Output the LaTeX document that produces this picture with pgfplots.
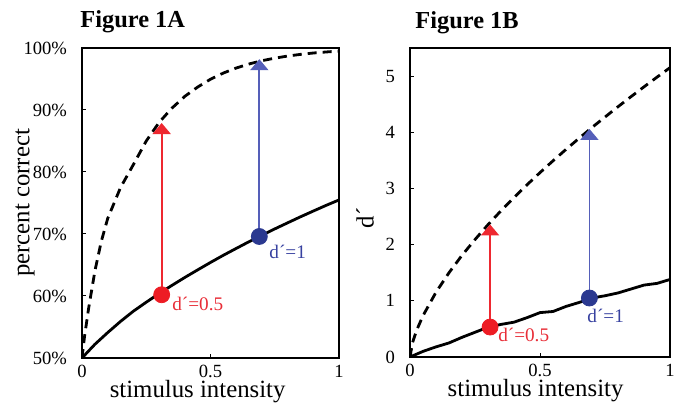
\documentclass[border=0pt]{standalone}
\usepackage{fontspec}
\setmainfont{Liberation Serif}
\usepackage{pgfplots}
\pgfplotsset{compat=1.18}
\usetikzlibrary{arrows.meta}

\definecolor{ptred}{RGB}{237,28,36}
\definecolor{ptblue}{RGB}{43,57,144}
\definecolor{lnred}{RGB}{238,40,48}
\definecolor{lnblue}{RGB}{85,95,185}
\definecolor{txtred}{RGB}{232,45,55}
\definecolor{txtblue}{RGB}{55,65,160}

\newcommand{\dpr}{d\symbol{"00B4}}

\pgfplotsset{
  panel/.style={
    scale only axis,
    axis line style={line width=1.3pt},
    tick align=inside,
    xtick pos=left, ytick pos=left,
    major tick length=2pt,
    tick style={black, line width=0.5pt},
    xmin=0, xmax=1,
    xtick={0,0.5,1}, xticklabels={0,0.5,1},
    tick label style={font=\rmfamily\fontsize{9.3}{10}\selectfont},
    yticklabel style={xshift=-4pt},
    /pgf/number format/assume math mode=true,
    label style={font=\rmfamily\fontsize{12.4}{13}\selectfont},
    title style={font=\rmfamily\fontsize{12.2}{13}\selectfont\bfseries,
      at={(axis description cs:0,1)}, anchor=base west, inner sep=0pt,
      yshift=4pt},
    xlabel={stimulus intensity},
  },
  solidc/.style={black, line width=1.4pt, line join=round},
  dashc/.style={black, line width=1.4pt, dash pattern=on 4.5pt off 3pt},
  arr/.style={line width=0.9pt, -{Triangle[width=9pt,length=5.5pt]}},
}
\tikzset{note/.style={anchor=base west, inner sep=0pt,
  font=\rmfamily\fontsize{9.6}{10}\selectfont}}

\begin{document}
\begin{tikzpicture}
\useasboundingbox (0,0) rectangle (340pt,203pt);

% ---- Figure 1A: percent correct ----
\begin{axis}[panel,
  at={(41pt,24pt)}, anchor=south west,
  width=128.5pt, height=155pt,
  ymin=50, ymax=100,
  ytick={50,60,70,80,90,100},
  yticklabels={50\%,60\%,70\%,80\%,90\%,100\%},
  title={Figure 1A},
  title style={xshift=-1pt},
  ylabel={percent correct},
  xlabel style={at={(axis description cs:0.45,-0.129)}, anchor=base},
  ylabel style={at={(axis description cs:-0.222,0.5)}, anchor=center},
]
\addplot[dashc] coordinates {
 (0,50) (0.01,53.5) (0.025,57.8) (0.05,64) (0.075,68.8) (0.1,72.5)
 (0.15,77.5) (0.2,81.2) (0.25,85) (0.3,88) (0.35,90.3) (0.4,92.2)
 (0.45,93.7) (0.5,94.96) (0.55,95.96) (0.6,96.77) (0.65,97.42)
 (0.7,97.95) (0.75,98.36) (0.8,98.7) (0.85,98.97) (0.9,99.19)
 (0.95,99.36) (1,99.5)
};
\addplot[solidc] coordinates {
 (0,50) (0.05,52.2) (0.1,54.1) (0.15,55.9) (0.2,57.55) (0.25,59.0)
 (0.3,60.39) (0.35,61.71) (0.4,62.99) (0.45,64.21) (0.5,65.41)
 (0.55,66.57) (0.6,67.67) (0.65,68.76) (0.7,69.8) (0.75,70.82)
 (0.8,71.8) (0.85,72.77) (0.9,73.7) (0.95,74.62) (1,75.49)
};
\addplot[lnred, arr] coordinates {(0.31,60.2) (0.31,87.9)};
\addplot[lnblue, arr] coordinates {(0.69,69.6) (0.69,98.2)};
\addplot[only marks, mark=*, mark size=4pt, ptred] coordinates {(0.31,60.2)};
\addplot[only marks, mark=*, mark size=4pt, ptblue] coordinates {(0.69,69.6)};
\node[note, txtred] at (axis cs:0.35,57.7) {\dpr=0.5};
\node[note, txtblue] at (axis cs:0.728,66.1) {\dpr=1};
\end{axis}

% ---- Figure 1B: d' ----
\begin{axis}[panel,
  at={(205pt,24.5pt)}, anchor=south west,
  width=130pt, height=154.5pt,
  ymin=0, ymax=5.5,
  ytick={0,1,2,3,4,5},
  yticklabels={0,1,2,3,4,5},
  title={Figure 1B},
  title style={xshift=2.5pt},
  ylabel={\dpr},
  xlabel style={at={(axis description cs:0.483,-0.129)}, anchor=base},
  ylabel style={at={(axis description cs:-0.173,0.45)}, anchor=center},
]
\addplot[dashc] coordinates {
 (0,0) (0.01,0.26) (0.025,0.47) (0.05,0.735) (0.1,1.153) (0.15,1.50)
 (0.2,1.81) (0.25,2.09) (0.3,2.355) (0.35,2.603) (0.4,2.839)
 (0.45,3.065) (0.5,3.282) (0.55,3.492) (0.6,3.695) (0.65,3.892)
 (0.7,4.085) (0.75,4.271) (0.8,4.455) (0.85,4.634) (0.9,4.809)
 (0.95,4.981) (1,5.15)
};
\addplot[solidc] coordinates {
 (0,0) (0.05,0.1) (0.1,0.18) (0.15,0.25) (0.2,0.35) (0.25,0.44)
 (0.3,0.53) (0.35,0.58) (0.4,0.62) (0.45,0.7) (0.5,0.79) (0.55,0.81)
 (0.6,0.9) (0.65,0.97) (0.7,1.05) (0.75,1.09) (0.8,1.14) (0.85,1.21)
 (0.9,1.28) (0.95,1.31) (1,1.38)
};
\addplot[lnred, arr] coordinates {(0.308,0.533) (0.308,2.36)};
\addplot[lnblue, arr] coordinates {(0.69,1.05) (0.69,4.06)};
\addplot[only marks, mark=*, mark size=4pt, ptred] coordinates {(0.308,0.533)};
\addplot[only marks, mark=*, mark size=4pt, ptblue] coordinates {(0.69,1.05)};
\node[note, txtred] at (axis cs:0.338,0.27) {\dpr=0.5};
\node[note, txtblue] at (axis cs:0.681,0.62) {\dpr=1};
\end{axis}
\end{tikzpicture}
\end{document}
